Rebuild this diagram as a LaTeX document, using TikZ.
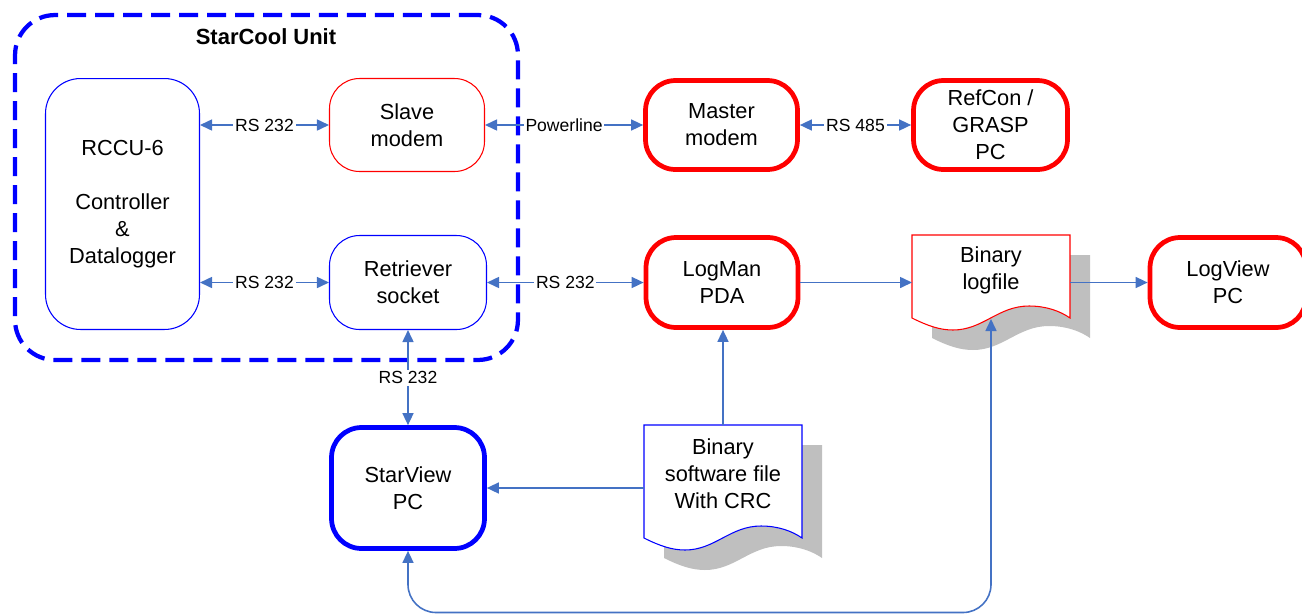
\documentclass[tikz,border=0pt]{standalone}
\usepackage{fontspec}
\setmainfont{Liberation Sans}
\usetikzlibrary{arrows.meta}
\definecolor{arrblue}{RGB}{68,114,196}
\definecolor{docshade}{RGB}{191,191,191}
\newcommand{\docoutline}[1]{(0,0) -- (158,0) -- (158,#1) .. controls (148,#1-7) and (134,#1-12) .. (117,#1-12) .. controls (86,#1-12) and (71,#1+12) .. (41,#1+12) .. controls (28,#1+12) and (16,#1+8) .. (0,#1) -- cycle}
\begin{document}
\begin{tikzpicture}[x=0.02cm,y=-0.02cm,
  box/.style={draw, rounded corners=0.6cm, align=center, font=\fontsize{12.4}{15.3}\selectfont, inner sep=0pt},
  thinred/.style={box, draw=red, line width=0.6pt},
  thinblue/.style={box, draw=blue, line width=0.6pt},
  thickred/.style={box, draw=red, line width=2.7pt},
  thickblue/.style={box, draw=blue, line width=2.7pt},
  arr/.style={draw=arrblue, line width=0.9pt, -{Triangle[length=0.24cm,width=0.22cm]}},
  biarr/.style={draw=arrblue, line width=0.9pt, {Triangle[length=0.24cm,width=0.22cm]}-{Triangle[length=0.24cm,width=0.22cm]}},
  lbl/.style={fill=white, inner sep=1pt, font=\fontsize{10}{12}\selectfont},
  doctext/.style={align=center, font=\fontsize{12.4}{15.3}\selectfont, inner sep=0pt},
  container/.style={draw=blue, line width=0.085cm, dash pattern=on 0.38cm off 0.18cm, rounded corners=0.8cm, inner sep=0pt},
]
\useasboundingbox (0,0) rectangle (1302,613);

% container
\node[container, minimum width=10.06cm, minimum height=6.9cm] (unit) at (266.5,187.5) {};
\node[font=\bfseries\fontsize{12.5}{15}\selectfont] (unitlbl) at (266,37) {StarCool Unit};

% documents
\begin{scope}[shift={(664,445)}] \fill[docshade] \docoutline{113}; \end{scope}
\begin{scope}[shift={(644,425)}] \filldraw[fill=white, draw=blue, line width=0.6pt] \docoutline{113}; \end{scope}
\begin{scope}[shift={(932,255)}] \fill[docshade] \docoutline{83}; \end{scope}
\begin{scope}[shift={(912,235)}] \filldraw[fill=white, draw=red, line width=0.6pt] \docoutline{83}; \end{scope}
\node[doctext] (soft) at (723,474) {Binary\\software file\\With CRC};
\node[doctext] (logfile) at (991,270) {Binary\\logfile};
\coordinate (softtop) at (723,425);
\coordinate (softleft) at (644,488);
\coordinate (lfleft) at (912,282.5);
\coordinate (lfright) at (1070,282.5);
\coordinate (lfbottom) at (991,319);
\coordinate (bottomline) at (0,612.5);

% boxes
\node[thinblue, minimum width=3.08cm, minimum height=5.02cm, rounded corners=0.7cm] (rccu) at (122.5,204) {RCCU-6\\[15.3pt]Controller\\\&\\Datalogger};
\node[thinred, minimum width=3.1cm, minimum height=1.86cm] (slave) at (407,125) {Slave\\modem};
\node[thinblue, minimum width=3.14cm, minimum height=1.88cm] (retr) at (408,282.5) {Retriever\\socket};
\node[thickred, minimum width=3.04cm, minimum height=1.78cm] (master) at (721.5,125) {Master\\modem};
\node[thickred, minimum width=3.08cm, minimum height=1.78cm] (refcon) at (990.5,125) {RefCon /\\GRASP\\PC};
\node[thickred, minimum width=3.04cm, minimum height=1.8cm] (logman) at (722,282.5) {LogMan\\PDA};
\node[thickred, minimum width=3.12cm, minimum height=1.8cm] (logview) at (1228,282.5) {LogView\\PC};
\node[thickblue, minimum width=3.06cm, minimum height=2.42cm] (starview) at (408,488) {StarView\\PC};

% connectors
\draw[biarr] (rccu.east |- slave) -- node[lbl]{RS 232} (slave.west);
\draw[biarr] (rccu.east |- retr) -- node[lbl]{RS 232} (retr.west);
\draw[biarr] (slave.east) -- node[lbl]{Powerline} (master.west);
\draw[biarr] (master.east) -- node[lbl]{RS 485} (refcon.west);
\draw[biarr] (retr.east) -- node[lbl]{RS 232} (logman.west);
\draw[arr] (logman.east) -- (lfleft);
\draw[arr] (lfright) -- (logview.west);
\draw[biarr] (retr.south) -- node[lbl]{RS 232} (starview.north);
\draw[arr] (softtop) -- (softtop |- logman.south);
\draw[arr] (softleft) -- (starview.east |- softleft);
\draw[biarr, rounded corners=0.56cm] (lfbottom) -- (lfbottom |- bottomline) -| (starview.south);
\end{tikzpicture}
\end{document}
